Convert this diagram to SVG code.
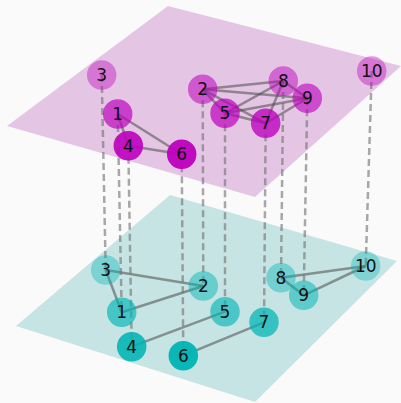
<svg xmlns="http://www.w3.org/2000/svg" width="401" height="403" viewBox="0 0 401 403">
<style>
.bg{fill:#fafafa}
.ptop{fill:#e4c6e4}
.pbot{fill:#c7e4e4}
.e{stroke:#4a4a4a;stroke-opacity:0.55;stroke-width:2.5;fill:none}
.d{stroke:#707070;stroke-opacity:0.6;stroke-width:2.5;stroke-dasharray:7,4;fill:none}
.m circle{fill:#bf00bf;stroke:#bf00bf;stroke-width:1.5}
.c circle{fill:#00b5b5;stroke:#00b5b5;stroke-width:1.5}
text{font-family:"DejaVu Sans",sans-serif;font-size:17px;fill:#111;text-anchor:middle;dominant-baseline:central}
</style>
<rect class="bg" x="0" y="0" width="401" height="403"/>
<polygon class="pbot" points="170,195 397,261 255,402 16,326"/>
<polygon class="ptop" points="168,6 401,66 255,197 7,126"/>
<g id="connectors">
<line class="e" x1="117.7" y1="114" x2="128.3" y2="145.7"/>
<line class="e" x1="117.7" y1="114" x2="181.7" y2="154.3"/>
<line class="e" x1="128.3" y1="145.7" x2="181.7" y2="154.3"/>
<line class="e" x1="202.7" y1="89.3" x2="225" y2="113.3"/>
<line class="e" x1="202.7" y1="89.3" x2="265.7" y2="123.3"/>
<line class="e" x1="202.7" y1="89.3" x2="283.3" y2="81"/>
<line class="e" x1="202.7" y1="89.3" x2="307.3" y2="98.3"/>
<line class="e" x1="225" y1="113.3" x2="283.3" y2="81"/>
<line class="e" x1="225" y1="113.3" x2="307.3" y2="98.3"/>
<line class="e" x1="225" y1="113.3" x2="265.7" y2="123.3"/>
<line class="e" x1="265.7" y1="123.3" x2="283.3" y2="81"/>
<line class="e" x1="265.7" y1="123.3" x2="307.3" y2="98.3"/>
<line class="e" x1="283.3" y1="81" x2="307.3" y2="98.3"/>
<line class="e" x1="105.7" y1="270" x2="203.3" y2="286"/>
<line class="e" x1="105.7" y1="270" x2="121.7" y2="312.3"/>
<line class="e" x1="121.7" y1="312.3" x2="203.3" y2="286"/>
<line class="e" x1="131.7" y1="346.7" x2="225" y2="311.7"/>
<line class="e" x1="183.3" y1="355.7" x2="264" y2="322.3"/>
<line class="e" x1="281" y1="277.7" x2="365.7" y2="266"/>
<line class="e" x1="303.7" y1="295.3" x2="365.7" y2="266"/>
<line class="e" x1="281" y1="277.7" x2="303.7" y2="295.3"/>
<line class="d" x1="101.7" y1="75" x2="105.7" y2="270"/>
<line class="d" x1="117.7" y1="114" x2="121.7" y2="312.3"/>
<line class="d" x1="128.3" y1="145.7" x2="131.7" y2="346.7"/>
<line class="d" x1="181.7" y1="154.3" x2="183.3" y2="355.7"/>
<line class="d" x1="202.7" y1="89.3" x2="203.3" y2="286"/>
<line class="d" x1="225" y1="113.3" x2="225" y2="311.7"/>
<line class="d" x1="265.7" y1="123.3" x2="264" y2="322.3"/>
<line class="d" x1="283.3" y1="81" x2="281" y2="277.7"/>
<line class="d" x1="307.3" y1="98.3" x2="303.7" y2="295.3"/>
<line class="d" x1="371.7" y1="71" x2="365.7" y2="266"/>
</g>
<g class="m">
<g id="t3" opacity="0.4"><circle cx="101.7" cy="75" r="14"/></g>
<g id="t10" opacity="0.4"><circle cx="371.7" cy="71" r="14"/></g>
<g id="t8" opacity="0.48"><circle cx="283.3" cy="81" r="14"/></g>
<g id="t2" opacity="0.55"><circle cx="202.7" cy="89.3" r="14"/></g>
<g id="t9" opacity="0.62"><circle cx="307.3" cy="98.3" r="14"/></g>
<g id="t1" opacity="0.68"><circle cx="117.7" cy="114" r="14"/></g>
<g id="t5" opacity="0.7"><circle cx="225" cy="113.3" r="14"/></g>
<g id="t7" opacity="0.78"><circle cx="265.7" cy="123.3" r="14"/></g>
<g id="t4" opacity="0.9"><circle cx="128.3" cy="145.7" r="14"/></g>
<g id="t6" opacity="0.95"><circle cx="181.7" cy="154.3" r="14"/></g>
</g>
<g class="c">
<g id="b10" opacity="0.35"><circle cx="365.7" cy="266" r="14"/></g>
<g id="b3" opacity="0.38"><circle cx="105.7" cy="270" r="14"/></g>
<g id="b8" opacity="0.42"><circle cx="281" cy="277.7" r="14"/></g>
<g id="b2" opacity="0.48"><circle cx="203.3" cy="286" r="14"/></g>
<g id="b9" opacity="0.52"><circle cx="303.7" cy="295.3" r="14"/></g>
<g id="b5" opacity="0.62"><circle cx="225" cy="311.7" r="14"/></g>
<g id="b1" opacity="0.65"><circle cx="121.7" cy="312.3" r="14"/></g>
<g id="b7" opacity="0.72"><circle cx="264" cy="322.3" r="14"/></g>
<g id="b4" opacity="0.88"><circle cx="131.7" cy="346.7" r="14"/></g>
<g id="b6" opacity="0.95"><circle cx="183.3" cy="355.7" r="14"/></g>
</g>
<g id="labels">
<text x="101.7" y="75">3</text>
<text x="371.7" y="71">10</text>
<text x="283.3" y="81">8</text>
<text x="202.7" y="89.3">2</text>
<text x="307.3" y="98.3">9</text>
<text x="117.7" y="114">1</text>
<text x="225" y="113.3">5</text>
<text x="265.7" y="123.3">7</text>
<text x="128.3" y="145.7">4</text>
<text x="181.7" y="154.3">6</text>
<text x="365.7" y="266">10</text>
<text x="105.7" y="270">3</text>
<text x="281" y="277.7">8</text>
<text x="203.3" y="286">2</text>
<text x="303.7" y="295.3">9</text>
<text x="225" y="311.7">5</text>
<text x="121.7" y="312.3">1</text>
<text x="264" y="322.3">7</text>
<text x="131.7" y="346.7">4</text>
<text x="183.3" y="355.7">6</text>
</g>
</svg>
